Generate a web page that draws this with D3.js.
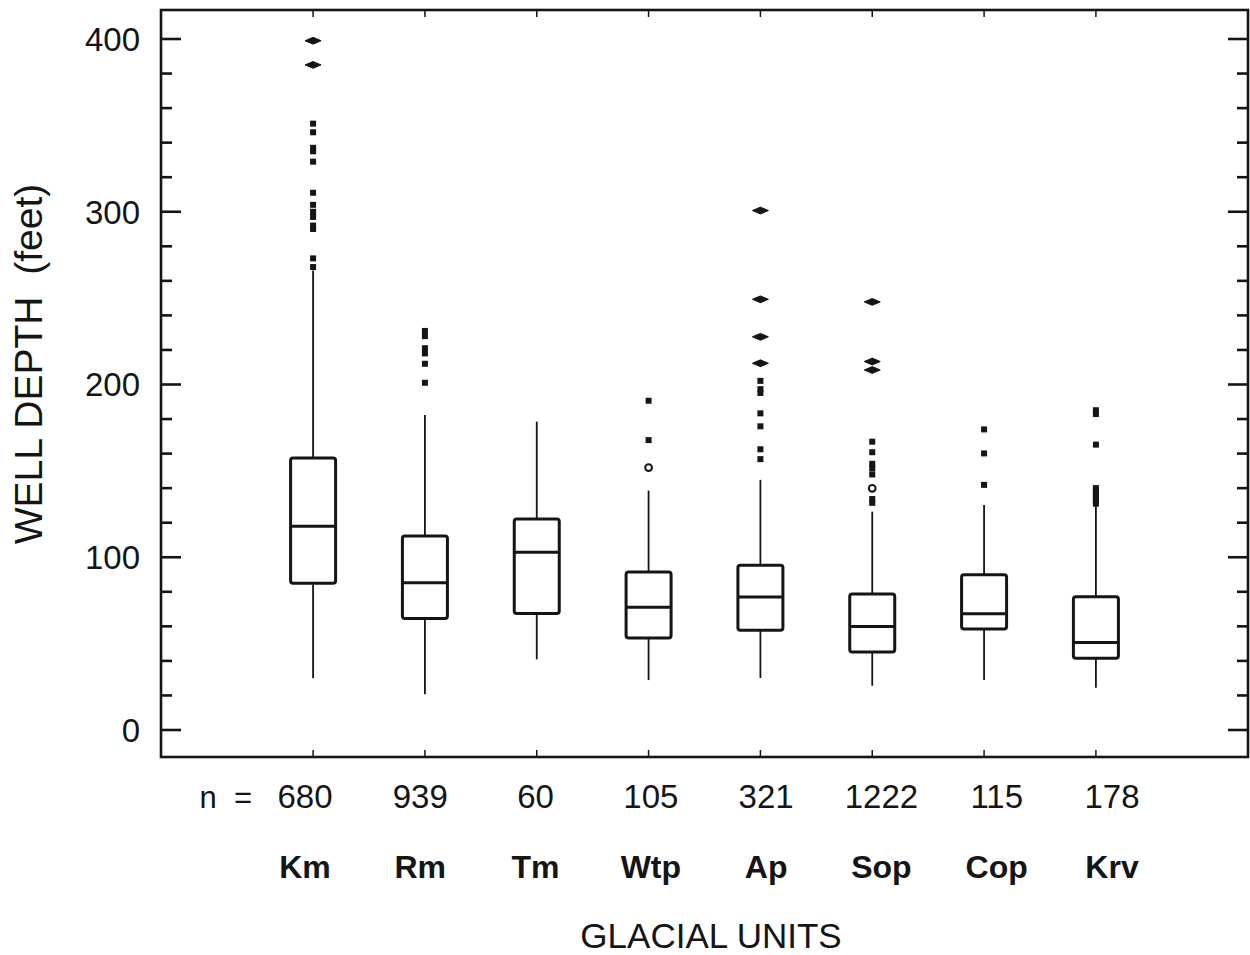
<!DOCTYPE html>
<html>
<head>
<meta charset="utf-8">
<script src="https://cdn.jsdelivr.net/npm/d3@7"></script>
<style>
  html, body { margin: 0; padding: 0; background: #fff; }
  svg { display: block; }
  text { font-family: "Liberation Sans", Arial, Helvetica, sans-serif; fill: #151515; }
</style>
</head>
<body>
<svg id="chart" width="1250" height="955"></svg>
<script>
// Well depth by glacial unit: box plots with outliers
const categories = ["Km", "Rm", "Tm", "Wtp", "Ap", "Sop", "Cop", "Krv"];
const counts = [680, 939, 60, 105, 321, 1222, 115, 178];

const whiskerLow  = [30, 20.7, 40.9, 28.9, 30.1, 25.6, 28.9, 24.5];
const q1          = [85, 64.5, 67.5, 53.3, 57.7, 45.1, 58.4, 41.6];
const medians     = [118, 85.3, 102.9, 71.0, 77.0, 59.9, 67.3, 50.7];
const q3          = [157.5, 112.3, 122.1, 91.4, 95.4, 78.7, 89.8, 77.2];
const whiskerHigh = [266, 182.3, 178.5, 138.6, 144.8, 126.4, 130.2, 129.7];

// outliers drawn as filled squares
const outlierDots = [
  [351, 346, 337, 335, 329, 311, 304, 300, 297, 292, 290, 273, 268],
  [231, 228, 221, 218, 212, 201],
  [],
  [190.6, 167.8],
  [202.1, 197.3, 195.1, 183.3, 175.8, 162.5, 156.8],
  [166.9, 160.8, 154.1, 151.4, 147.9, 133.7, 131.5],
  [174.0, 160.1, 141.9],
  [185.1, 182.9, 165.2, 131, 132.5, 134, 135.5, 137, 138.5, 140]
];
// outliers drawn as open circles
const outlierRings = [[], [], [], [151.9], [], [139.9], [], []];
// coincident outliers drawn as flat diamonds
const outlierDiamonds = [
  [399, 385], [], [], [], [300.7, 249.3, 227.6, 212.3], [247.8, 213.3, 208.4], [], []
];

const yMajor = [0, 100, 200, 300, 400];
const yMinor = d3.range(0, 401, 20);

const svg = d3.select("#chart");
const ink = "#151515";

const plotLeft = 161, plotRight = 1248, plotTop = 10, plotBottom = 757;

const y = d3.scaleLinear().domain([0, 400]).range([730, 39]);
const x = d3.scalePoint().domain(categories).range([plotLeft, plotRight]).padding(1.36);
const xLabel = d3.scalePoint().domain(categories).range([305, 1112]);

// frame
svg.append("rect")
  .attr("x", plotLeft).attr("y", plotTop)
  .attr("width", plotRight - plotLeft).attr("height", plotBottom - plotTop)
  .attr("fill", "none").attr("stroke", ink).attr("stroke-width", 2.6);

// left and right ticks
const tickG = svg.append("g").attr("stroke", ink).attr("stroke-width", 2.6);
yMinor.forEach(v => {
  const len = yMajor.includes(v) ? 20 : 11;
  tickG.append("line").attr("x1", plotLeft).attr("x2", plotLeft + len).attr("y1", y(v)).attr("y2", y(v));
  tickG.append("line").attr("x1", plotRight).attr("x2", plotRight - len).attr("y1", y(v)).attr("y2", y(v));
});

// top and bottom category ticks
categories.forEach(c => {
  tickG.append("line").attr("x1", x(c)).attr("x2", x(c)).attr("y1", plotTop).attr("y2", plotTop + 7).attr("stroke-width", 1.5);
  tickG.append("line").attr("x1", x(c)).attr("x2", x(c)).attr("y1", plotBottom).attr("y2", plotBottom - 7).attr("stroke-width", 1.5);
});

// y tick labels
svg.append("g").selectAll("text").data(yMajor).join("text")
  .attr("x", 140).attr("y", d => y(d))
  .attr("dy", "0.36em")
  .attr("text-anchor", "end")
  .attr("font-size", 33)
  .text(d => d);

// y axis title
svg.append("text")
  .attr("transform", "translate(42, 364) rotate(-90)")
  .attr("text-anchor", "middle")
  .attr("font-size", 39)
  .style("white-space", "pre")
  .text("WELL DEPTH  (feet)");

// boxes
const boxW = 45;
const boxes = svg.append("g");
categories.forEach((c, i) => {
  const cx = x(c);
  const g = boxes.append("g");
  // whiskers
  g.append("line").attr("x1", cx).attr("x2", cx)
    .attr("y1", y(q3[i])).attr("y2", y(whiskerHigh[i]))
    .attr("stroke", ink).attr("stroke-width", 1.8);
  g.append("line").attr("x1", cx).attr("x2", cx)
    .attr("y1", y(q1[i])).attr("y2", y(whiskerLow[i]))
    .attr("stroke", ink).attr("stroke-width", 1.8);
  // box
  g.append("rect")
    .attr("x", cx - boxW / 2).attr("y", y(q3[i]))
    .attr("width", boxW).attr("height", y(q1[i]) - y(q3[i]))
    .attr("rx", 2.5)
    .attr("fill", "none").attr("stroke", ink).attr("stroke-width", 3);
  // median
  g.append("line")
    .attr("x1", cx - boxW / 2).attr("x2", cx + boxW / 2)
    .attr("y1", y(medians[i])).attr("y2", y(medians[i]))
    .attr("stroke", ink).attr("stroke-width", 3);

  // outliers
  outlierDots[i].forEach(v => {
    g.append("rect")
      .attr("x", cx - 3).attr("y", y(v) - 3)
      .attr("width", 6).attr("height", 6)
      .attr("fill", ink);
  });
  outlierRings[i].forEach(v => {
    g.append("circle")
      .attr("cx", cx).attr("cy", y(v)).attr("r", 3.4)
      .attr("fill", "none").attr("stroke", ink).attr("stroke-width", 2);
  });
  outlierDiamonds[i].forEach(v => {
    const yy = y(v);
    g.append("path")
      .attr("d", `M${cx - 8},${yy} L${cx},${yy - 3.4} L${cx + 8},${yy} L${cx},${yy + 3.4} Z`)
      .attr("fill", ink).attr("stroke", ink).attr("stroke-width", 1);
  });
});

// sample sizes
svg.append("text")
  .attr("x", 252).attr("y", 808)
  .attr("text-anchor", "end")
  .attr("font-size", 31)
  .style("white-space", "pre")
  .text("n  =");
svg.append("g").selectAll("text").data(categories).join("text")
  .attr("x", c => xLabel(c))
  .attr("y", 808)
  .attr("text-anchor", "middle")
  .attr("font-size", 33)
  .text((c, i) => counts[i]);

// unit names
svg.append("g").selectAll("text").data(categories).join("text")
  .attr("x", c => xLabel(c))
  .attr("y", 878)
  .attr("text-anchor", "middle")
  .attr("font-size", 32)
  .attr("font-weight", "bold")
  .text(c => c);

// x axis title
svg.append("text")
  .attr("x", 711).attr("y", 948)
  .attr("text-anchor", "middle")
  .attr("font-size", 35)
  .text("GLACIAL UNITS");
</script>
</body>
</html>
